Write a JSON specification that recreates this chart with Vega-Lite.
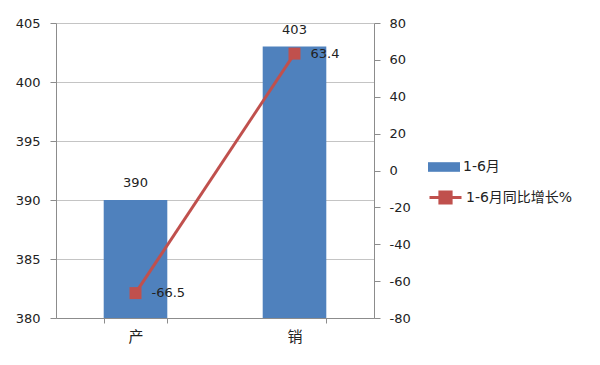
{
  "$schema": "https://vega.github.io/schema/vega-lite/v6.json",
  "width": 318,
  "height": 295,
  "autosize": {"type": "none"},
  "padding": {"left": 56, "top": 23, "right": 226, "bottom": 47},
  "background": "white",
  "config": {
    "view": {"stroke": null},
    "font": "DejaVu Sans, Noto Sans CJK SC",
    "axis": {"labelColor": "#222", "domainColor": "#8c8c8c", "tickColor": "#8c8c8c", "title": null, "labelFont": "DejaVu Sans, Noto Sans CJK SC"},
    "legend": {"labelFont": "DejaVu Sans, Noto Sans CJK SC", "labelColor": "#222"}
  },
  "data": {
    "values": [
      {"cat": "产", "value": 390, "growth": -66.5, "s1": "1-6月", "s2": "1-6月同比增长%"},
      {"cat": "销", "value": 403, "growth": 63.4, "s1": "1-6月", "s2": "1-6月同比增长%"}
    ]
  },
  "encoding": {
    "x": {
      "field": "cat",
      "type": "nominal",
      "sort": null,
      "scale": {"paddingInner": 0.6, "paddingOuter": 0.3},
      "axis": {"labelAngle": 0, "tickBand": "extent", "tickSize": 5, "labelPadding": 6, "labelFontSize": 15, "grid": false, "domainColor": "#8c8c8c"}
    }
  },
  "layer": [
    {
      "encoding": {
        "y": {
          "field": "value",
          "type": "quantitative",
          "scale": {"domain": [380, 405], "nice": false, "zero": false},
          "axis": {"values": [380, 385, 390, 395, 400, 405], "grid": true, "gridColor": "#c4c4c4", "tickSize": 6, "labelPadding": 10, "labelFontSize": 13}
        }
      },
      "layer": [
        {
          "mark": {"type": "bar"},
          "encoding": {
            "y2": {"datum": 380},
            "fill": {
              "field": "s1",
              "type": "nominal",
              "scale": {"range": ["#4F81BD"]},
              "legend": {
                "title": null,
                "orient": "none",
                "legendX": 372,
                "legendY": 128,
                "symbolType": "M-1,-0.3H1V0.3H-1Z",
                "symbolSize": 1024,
                "symbolStrokeWidth": 0,
                "labelFontSize": 14,
                "labelOffset": 3,
                "padding": 0
              }
            }
          }
        },
        {
          "mark": {"type": "text", "baseline": "middle", "dy": -17, "fontSize": 13, "color": "#222"},
          "encoding": {"text": {"field": "value", "type": "nominal"}}
        }
      ]
    },
    {
      "encoding": {
        "y": {
          "field": "growth",
          "type": "quantitative",
          "scale": {"domain": [-80, 80], "nice": false},
          "axis": {"orient": "right", "values": [-80, -60, -40, -20, 0, 20, 40, 60, 80], "labelExpr": "replace(datum.label, '\u2212', '-')", "grid": false, "tickSize": 6, "labelPadding": 9, "labelFontSize": 13}
        }
      },
      "layer": [
        {
          "mark": {"type": "line", "strokeWidth": 3},
          "encoding": {
            "stroke": {
              "field": "s2",
              "type": "nominal",
              "scale": {"range": ["#C0504D"]},
              "legend": {
                "title": null,
                "orient": "none",
                "legendX": 372,
                "legendY": 157,
                "symbolType": "M-1,0H1M-0.35,-0.35H0.35V0.35H-0.35Z",
                "symbolSize": 1024,
                "symbolStrokeWidth": 3,
                "symbolFillColor": "#C0504D",
                "labelFontSize": 14,
                "labelOffset": 3,
                "padding": 0
              }
            }
          }
        },
        {
          "mark": {"type": "square", "size": 144, "color": "#C0504D", "opacity": 1, "filled": true}
        },
        {
          "mark": {"type": "text", "align": "left", "baseline": "middle", "dx": 16, "fontSize": 13, "color": "#222"},
          "encoding": {"text": {"field": "growth", "type": "nominal"}}
        }
      ]
    }
  ],
  "resolve": {"scale": {"y": "independent", "fill": "independent", "stroke": "independent"}}
}
